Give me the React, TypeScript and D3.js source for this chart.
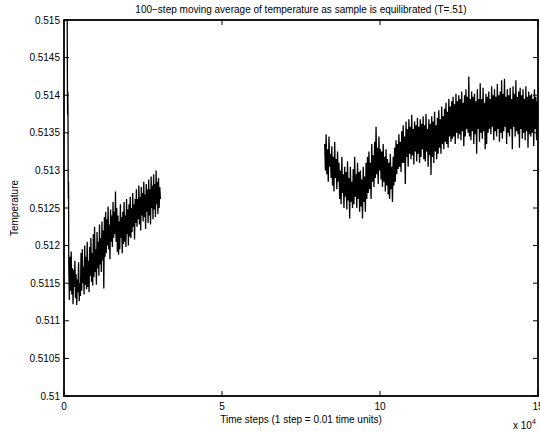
import React from 'react';
import * as d3 from 'd3';

const TITLE = '100\u2212step moving average of temperature as sample is equilibrated (T=.51)';
const X_LABEL = 'Time steps (1 step = 0.01 time units)';
const Y_LABEL = 'Temperature';
const X_TICKS = [0, 50000, 100000, 150000];
const X_TICK_LABELS = ['0', '5', '10', '15'];
const Y_TICKS = [0.51, 0.5105, 0.511, 0.5115, 0.512, 0.5125, 0.513, 0.5135, 0.514, 0.5145, 0.515];
const Y_TICK_LABELS = ['0.51', '0.5105', '0.511', '0.5115', '0.512', '0.5125', '0.513', '0.5135', '0.514', '0.5145', '0.515'];

// initial transient (steps, temperatures)
const STARTUP_STEPS = [1000, 1080, 1150, 1200, 1260, 1320, 1380, 1440];
const STARTUP_TEMPS = [.51520, .51411, .51374, .51405, .51380, .51292, .51262, .51285];

// first recorded run
const RUN1_FIRST_STEP = 1500;
const RUN1_LAST_STEP = 30500;
const RUN1_TEMPS = [
  .51175, .51128, .51185, .51140, .51192, .51135, .51170, .51122, .51168, .51145,
  .51180, .51130, .51162, .51121, .51155, .51138, .51178, .51126, .51150, .51133,
  .51190, .51140, .51195, .51150, .51172, .51135, .51200, .51148, .51185, .51142,
  .51205, .51145, .51180, .51138, .51198, .51160, .51210, .51152, .51190, .51147,
  .51215, .51158, .51225, .51165, .51195, .51148, .51218, .51170, .51205, .51160,
  .51228, .51175, .51210, .51165, .51232, .51180, .51220, .51143, .51238, .51185,
  .51245, .51190, .51235, .51200, .51252, .51195, .51228, .51182, .51248, .51205,
  .51240, .51198, .51258, .51210, .51245, .51215, .51272, .51205, .51250, .51192,
  .51240, .51188, .51232, .51195, .51255, .51210, .51238, .51190, .51245, .51202,
  .51258, .51205, .51240, .51198, .51262, .51215, .51248, .51200, .51255, .51212,
  .51265, .51210, .51250, .51218, .51270, .51225, .51255, .51208, .51262, .51230,
  .51275, .51225, .51262, .51235, .51280, .51228, .51265, .51220, .51278, .51240,
  .51270, .51232, .51285, .51238, .51268, .51222, .51282, .51245, .51275, .51230,
  .51288, .51240, .51275, .51228, .51292, .51250, .51280, .51235, .51295, .51248,
  .51282, .51238, .51300, .51255, .51285, .51242, .51290, .51250, .51278, .51262,
];

// second recorded run
const RUN2_FIRST_STEP = 82500;
const RUN2_LAST_STEP = 150000;
const RUN2_TEMPS = [
  .51335, .51300, .51348, .51295, .51328, .51285, .51345, .51305, .51322, .51290,
  .51332, .51280, .51318, .51272, .51338, .51290, .51315, .51275, .51325, .51285,
  .51310, .51262, .51300, .51255, .51318, .51270, .51295, .51250, .51305, .51265,
  .51298, .51248, .51312, .51260, .51290, .51236, .51305, .51258, .51285, .51250,
  .51302, .51255, .51318, .51265, .51295, .51250, .51310, .51262, .51298, .51245,
  .51300, .51252, .51288, .51236, .51305, .51258, .51292, .51245, .51310, .51262,
  .51318, .51270, .51325, .51275, .51310, .51262, .51335, .51285, .51320, .51278,
  .51338, .51290, .51358, .51295, .51330, .51282, .51345, .51300, .51328, .51288,
  .51325, .51278, .51335, .51285, .51318, .51272, .51328, .51280, .51315, .51268,
  .51310, .51262, .51322, .51275, .51305, .51258, .51318, .51280, .51330, .51285,
  .51340, .51295, .51335, .51302, .51348, .51305, .51338, .51298, .51352, .51310,
  .51360, .51310, .51345, .51282, .51365, .51318, .51355, .51305, .51368, .51322,
  .51358, .51315, .51374, .51320, .51355, .51308, .51365, .51325, .51360, .51312,
  .51370, .51322, .51358, .51310, .51368, .51318, .51362, .51328, .51372, .51315,
  .51360, .51312, .51375, .51325, .51355, .51305, .51368, .51320, .51362, .51294,
  .51372, .51318, .51365, .51310, .51378, .51325, .51360, .51315, .51370, .51322,
  .51380, .51330, .51368, .51322, .51385, .51335, .51372, .51328, .51382, .51338,
  .51390, .51335, .51378, .51330, .51395, .51345, .51385, .51338, .51392, .51342,
  .51398, .51345, .51388, .51335, .51402, .51350, .51392, .51342, .51400, .51348,
  .51395, .51340, .51405, .51352, .51390, .51332, .51400, .51345, .51408, .51355,
  .51398, .51350, .51425, .51345, .51395, .51340, .51405, .51352, .51398, .51335,
  .51402, .51348, .51392, .51322, .51408, .51355, .51395, .51338, .51416, .51350,
  .51395, .51342, .51410, .51352, .51390, .51328, .51402, .51335, .51398, .51350,
  .51405, .51355, .51395, .51348, .51412, .51358, .51400, .51340, .51408, .51352,
  .51398, .51345, .51415, .51355, .51400, .51338, .51405, .51350, .51420, .51342,
  .51402, .51352, .51422, .51358, .51398, .51335, .51408, .51350, .51400, .51345,
  .51410, .51355, .51395, .51328, .51412, .51358, .51402, .51345, .51420, .51352,
  .51398, .51348, .51405, .51330, .51410, .51355, .51400, .51342, .51408, .51350,
  .51395, .51340, .51412, .51352, .51398, .51330, .51405, .51348, .51400, .51345,
  .51402, .51350, .51395, .51332, .51408, .51355, .51398, .51340, .51392, .51360,
];

const W = 540;
const H = 434;
const M = { left: 64, right: 538, top: 20, bottom: 396 };
const FONT = 'Liberation Sans, Arial, Helvetica, sans-serif';

function stepsFor(first: number, last: number, n: number): number[] {
  return d3.range(n).map((i) => first + ((last - first) * i) / (n - 1));
}

export default function App() {
  const x = d3.scaleLinear().domain([0, 150000]).range([M.left, M.right]);
  const y = d3.scaleLinear().domain([0.51, 0.515]).range([M.bottom, M.top]);

  const run1: [number, number][] = [
    ...STARTUP_STEPS.map((s, i) => [s, STARTUP_TEMPS[i]] as [number, number]),
    ...stepsFor(RUN1_FIRST_STEP, RUN1_LAST_STEP, RUN1_TEMPS.length).map((s, i) => [s, RUN1_TEMPS[i]] as [number, number]),
  ];
  const run2: [number, number][] = stepsFor(RUN2_FIRST_STEP, RUN2_LAST_STEP, RUN2_TEMPS.length).map(
    (s, i) => [s, RUN2_TEMPS[i]] as [number, number]
  );

  const line = d3
    .line<[number, number]>()
    .x((d) => x(d[0]))
    .y((d) => y(d[1]));

  const tickLen = 5;
  const axisColor = '#000';

  return (
    <svg
      width={W}
      height={H}
      style={{ position: 'absolute', left: 0, top: 0, background: '#fff' }}
      fontFamily={FONT}
    >
      <defs>
        <clipPath id="plotclip">
          <rect x={M.left} y={M.top} width={M.right - M.left} height={M.bottom - M.top} />
        </clipPath>
      </defs>
      <rect x={0} y={0} width={W} height={H} fill="#fff" />

      <g clipPath="url(#plotclip)" fill="none" stroke="#000" strokeWidth={1.3} strokeLinejoin="miter">
        <path d={line(run1) || ''} />
        <path d={line(run2) || ''} />
      </g>

      {/* box */}
      <rect
        x={M.left}
        y={M.top}
        width={M.right - M.left}
        height={M.bottom - M.top}
        fill="none"
        stroke={axisColor}
        strokeWidth={1.8}
      />

      {/* y ticks */}
      {Y_TICKS.map((t, i) => (
        <g key={'y' + i}>
          <line x1={M.left} x2={M.left + tickLen} y1={y(t)} y2={y(t)} stroke={axisColor} strokeWidth={1} />
          <line x1={M.right} x2={M.right - tickLen} y1={y(t)} y2={y(t)} stroke={axisColor} strokeWidth={1} />
          <text x={M.left - 4} y={y(t)} dy="0.35em" textAnchor="end" fontSize={10} fill="#000">
            {Y_TICK_LABELS[i]}
          </text>
        </g>
      ))}

      {/* x ticks */}
      {X_TICKS.map((t, i) => (
        <g key={'x' + i}>
          <line x1={x(t)} x2={x(t)} y1={M.bottom} y2={M.bottom - tickLen} stroke={axisColor} strokeWidth={1} />
          <line x1={x(t)} x2={x(t)} y1={M.top} y2={M.top + tickLen} stroke={axisColor} strokeWidth={1} />
          <text x={x(t)} y={M.bottom + 14} textAnchor="middle" fontSize={10} fill="#000">
            {X_TICK_LABELS[i]}
          </text>
        </g>
      ))}

      {/* exponent */}
      <text x={513} y={429} fontSize={10} fill="#000">
        x 10
        <tspan dy={-5} fontSize={7}>4</tspan>
      </text>

      {/* labels */}
      <text x={(M.left + M.right) / 2} y={13} textAnchor="middle" fontSize={10} fill="#000">
        {TITLE}
      </text>
      <text x={(M.left + M.right) / 2} y={423} textAnchor="middle" fontSize={10} fill="#000">
        {X_LABEL}
      </text>
      <text
        transform={`translate(18, ${(M.top + M.bottom) / 2}) rotate(-90)`}
        textAnchor="middle"
        fontSize={10}
        fill="#000"
      >
        {Y_LABEL}
      </text>
    </svg>
  );
}
